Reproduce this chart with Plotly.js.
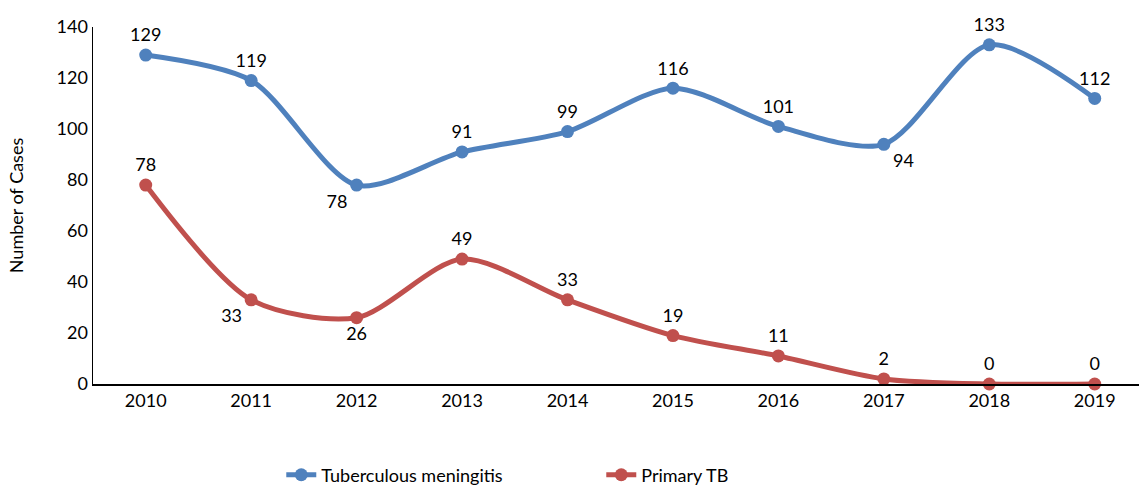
<!DOCTYPE html>
<html>
<head>
<meta charset="utf-8">
<script src="https://cdn.plot.ly/plotly-3.0.1.min.js"></script>
<style>html,body{margin:0;padding:0;background:#fff}#chart{width:1139px;height:487px}</style>
</head>
<body>
<div id="chart"></div>
<script>
// data
const years = ["2010","2011","2012","2013","2014","2015","2016","2017","2018","2019"];
const tbm = [129, 119, 78, 91, 99, 116, 101, 94, 133, 112];
const primaryTB = [78, 33, 26, 49, 33, 19, 11, 2, 0, 0];
const tbmLabelPos = ["top center","top center","bottom left","top center","top center","top center","top center","bottom right","top center","top center"];
const ptbLabelPos = ["top center","bottom left","bottom center","top center","top center","top center","top center","top center","top center","top center"];

const font = "Lato, 'Open Sans', sans-serif";

const traces = [
  {
    x: years, y: tbm, name: "Tuberculous meningitis",
    mode: "lines+markers+text", text: tbm.map(String), textposition: tbmLabelPos,
    textfont: {size: 18, color: "#000"},
    line: {color: "#4F81BD", width: 5, shape: "spline", smoothing: 0.8},
    marker: {color: "#4F81BD", size: 13},
    cliponaxis: false
  },
  {
    x: years, y: primaryTB, name: "Primary TB",
    mode: "lines+markers+text", text: primaryTB.map(String), textposition: ptbLabelPos,
    textfont: {size: 18, color: "#000"},
    line: {color: "#C0504D", width: 5, shape: "spline", smoothing: 0.8},
    marker: {color: "#C0504D", size: 13},
    cliponaxis: false
  }
];

const layout = {
  width: 1139, height: 487,
  paper_bgcolor: "#fff", plot_bgcolor: "#fff",
  font: {family: font, size: 18, color: "#000"},
  margin: {l: 93, r: 0, t: 27, b: 103, autoexpand: false},
  showlegend: true,
  legend: {orientation: "h", x: 0.18, xanchor: "left", y: -0.255, yanchor: "middle",
    font: {size: 18}, entrywidth: 275},
  xaxis: {
    type: "category", range: [-0.5, 9.42],
    showline: true, linecolor: "#000", linewidth: 1.5,
    showgrid: false, zeroline: false, ticks: "", ticklen: 0,
    tickfont: {size: 18}
  },
  yaxis: {
    range: [0, 140], dtick: 20,
    showline: true, linecolor: "#000", linewidth: 1.5,
    showgrid: false, zeroline: false, ticks: "",
    tickfont: {size: 18},
    title: {text: "Number of Cases", font: {size: 18}, standoff: 28}
  }
};

Plotly.newPlot("chart", traces, layout, {displayModeBar: false, staticPlot: true});
</script>
</body>
</html>
